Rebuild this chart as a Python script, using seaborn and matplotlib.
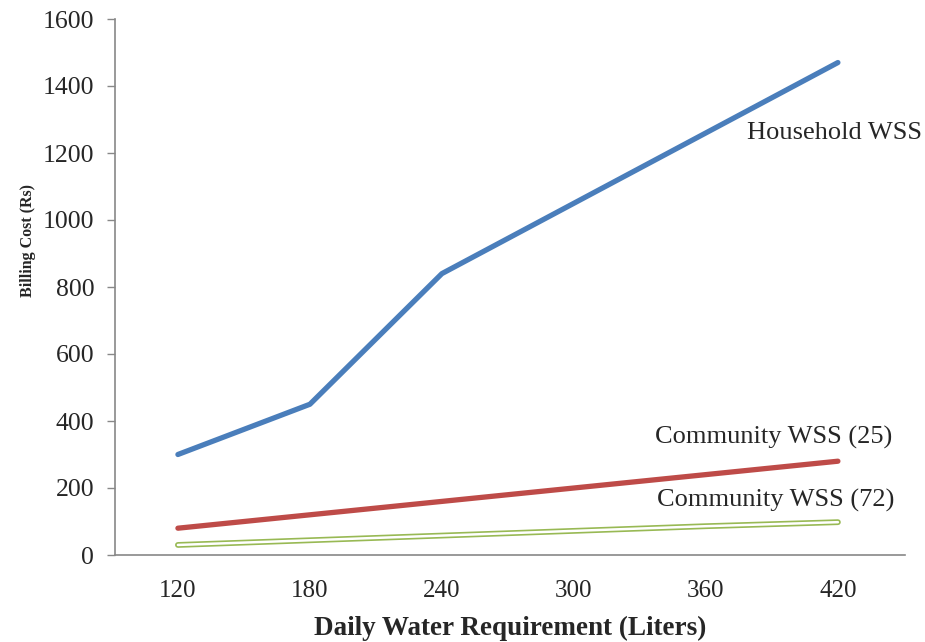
import matplotlib
matplotlib.use("Agg")
import matplotlib.pyplot as plt
import seaborn as sns
import pandas as pd

water = [120, 180, 240, 300, 360, 420]
household = [300, 450, 840, 1050, 1260, 1470]
community25 = [80, 120, 160, 200, 240, 280]
community72 = [30, 44, 58, 72, 86, 98]

sns.set_style("white")
plt.rcParams['font.family'] = ['Liberation Serif', 'DejaVu Serif']

fig = plt.figure(figsize=(9.25, 6.42), dpi=100)
ax = fig.add_axes([115/925, 1 - 555/642, 790/925, 536/642])

df_h = pd.DataFrame({"x": water, "y": household})
df_c25 = pd.DataFrame({"x": water, "y": community25})
df_c72 = pd.DataFrame({"x": water, "y": community72})

sns.lineplot(data=df_h, x="x", y="y", ax=ax, color="#4A7EBB", lw=3.8)
sns.lineplot(data=df_c25, x="x", y="y", ax=ax, color="#BE4B48", lw=3.8)
sns.lineplot(data=df_c72, x="x", y="y", ax=ax, color="#98B954", lw=4.2)
sns.lineplot(data=df_c72, x="x", y="y", ax=ax, color="white", lw=1.8)

ax.set_xlim(91.4, 450.5)
ax.set_ylim(0, 1600)
ax.set_xticks(water)
ax.set_xticklabels([str(v) for v in water])
ax.set_yticks(range(0, 1601, 200))
ax.tick_params(axis='y', length=6, width=1, color='#888888', labelsize=18.5, pad=9, direction='out', left=True)
ax.tick_params(axis='x', length=0, labelsize=18, pad=18)

for s in ['top', 'right']:
    ax.spines[s].set_visible(False)
for s in ['left', 'bottom']:
    ax.spines[s].set_color('#888888')
    ax.spines[s].set_linewidth(1.2)

ax.set_xlabel("Daily Water Requirement (Liters)", fontsize=19.5, fontweight='bold', labelpad=10)
ax.set_ylabel("Billing Cost (Rs)", fontsize=11.5, fontweight='bold')
ax.yaxis.set_label_coords(-0.10, 0.586)

ax.text(378.7, 1260, "Household WSS", fontsize=19, va='center', ha='left')
ax.text(336.9, 352, "Community WSS (25)", fontsize=19, va='center', ha='left')
ax.text(337.8, 164, "Community WSS (72)", fontsize=19, va='center', ha='left')

fig.savefig("out.png", dpi=100)
